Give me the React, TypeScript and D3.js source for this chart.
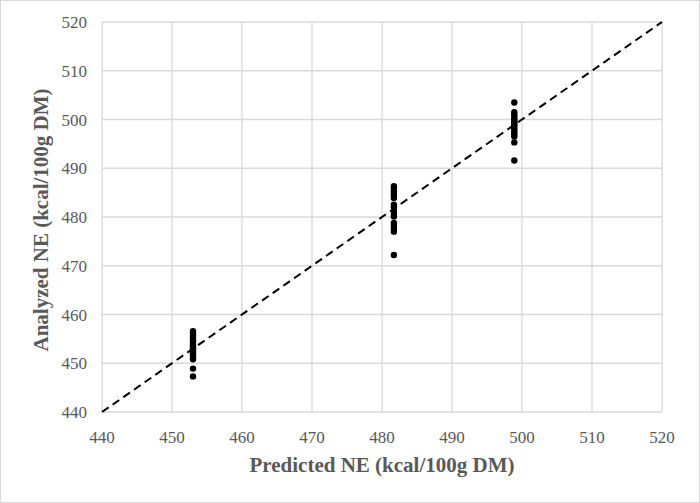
import React, { useEffect, useRef } from 'react'
import * as d3 from 'd3'

// predicted NE for each group of samples
const predicted = [453.0, 481.7, 498.9]

// analyzed NE values per group
const analyzedA = [456.6, 456.2, 455.8, 455.4, 455.0, 454.6, 454.2, 453.8, 453.5, 453.1, 452.8, 452.4, 452.0, 451.6, 451.2, 450.8, 448.9, 447.3]
const analyzedB = [486.3, 485.8, 485.3, 484.9, 484.4, 483.9, 482.5, 482.0, 481.2, 480.6, 480.1, 478.8, 478.2, 477.6, 477.0, 472.2]
const analyzedC = [503.5, 501.5, 501.0, 500.5, 500.0, 499.6, 499.2, 498.8, 498.3, 497.9, 497.4, 497.0, 496.5, 495.3, 491.6]

const xTicks = [440, 450, 460, 470, 480, 490, 500, 510, 520]
const yTicks = [440, 450, 460, 470, 480, 490, 500, 510, 520]

const App = () => {
  const ref = useRef<SVGSVGElement>(null)

  useEffect(() => {
    const width = 700, height = 503
    const margin = { top: 22, right: 38, bottom: 91, left: 102 }
    const w = width - margin.left - margin.right
    const h = height - margin.top - margin.bottom
    const font = '"Liberation Serif", "Times New Roman", serif'
    const grey = '#595959'

    const svg = d3.select(ref.current)
    svg.selectAll('*').remove()

    svg.append('rect')
      .attr('x', 0.5).attr('y', 0.5)
      .attr('width', width - 1).attr('height', height - 1)
      .attr('fill', '#fff').attr('stroke', '#d9d9d9')

    const g = svg.append('g').attr('transform', `translate(${margin.left},${margin.top})`)

    const x = d3.scaleLinear().domain([440, 520]).range([0, w])
    const y = d3.scaleLinear().domain([440, 520]).range([h, 0])

    // grid
    g.selectAll('.vgrid').data(xTicks).enter().append('line')
      .attr('x1', d => x(d)).attr('x2', d => x(d))
      .attr('y1', 0).attr('y2', h)
      .attr('stroke', '#d9d9d9').attr('stroke-width', 1.3)
    g.selectAll('.hgrid').data(yTicks).enter().append('line')
      .attr('x1', 0).attr('x2', w)
      .attr('y1', d => y(d)).attr('y2', d => y(d))
      .attr('stroke', '#d9d9d9').attr('stroke-width', 1.3)

    // tick labels
    g.selectAll('.xt').data(xTicks).enter().append('text')
      .attr('x', d => x(d)).attr('y', h + 31)
      .attr('text-anchor', 'middle')
      .attr('font-family', font).attr('font-size', 17).attr('fill', grey)
      .text(d => d)
    g.selectAll('.yt').data(yTicks).enter().append('text')
      .attr('x', -15).attr('y', d => y(d) + 6)
      .attr('text-anchor', 'end')
      .attr('font-family', font).attr('font-size', 17).attr('fill', grey)
      .text(d => d)

    // 1:1 line
    g.append('line')
      .attr('x1', x(440)).attr('y1', y(440))
      .attr('x2', x(520)).attr('y2', y(520))
      .attr('stroke', '#000').attr('stroke-width', 2)
      .attr('stroke-dasharray', '8,5')

    // points
    const groups = [analyzedA, analyzedB, analyzedC]
    const points = groups.flatMap((vals, i) => vals.map(v => ({ p: predicted[i], a: v })))
    g.selectAll('circle').data(points).enter().append('circle')
      .attr('cx', d => x(d.p)).attr('cy', d => y(d.a))
      .attr('r', 3.2).attr('fill', '#000')

    // axis titles
    svg.append('text')
      .attr('x', margin.left + w / 2).attr('y', 472)
      .attr('text-anchor', 'middle')
      .attr('font-family', font).attr('font-size', 21).attr('font-weight', 'bold').attr('fill', grey)
      .text('Predicted NE (kcal/100g DM)')
    svg.append('text')
      .attr('transform', `translate(48,220) rotate(-90)`)
      .attr('text-anchor', 'middle')
      .attr('font-family', font).attr('font-size', 21).attr('font-weight', 'bold').attr('fill', grey)
      .text('Analyzed NE (kcal/100g DM)')
  }, [])

  return (
    <div style={{ position: 'absolute', left: 0, top: 0 }}>
      <svg ref={ref} width={700} height={503} style={{ display: 'block' }} />
    </div>
  )
}

export default App
